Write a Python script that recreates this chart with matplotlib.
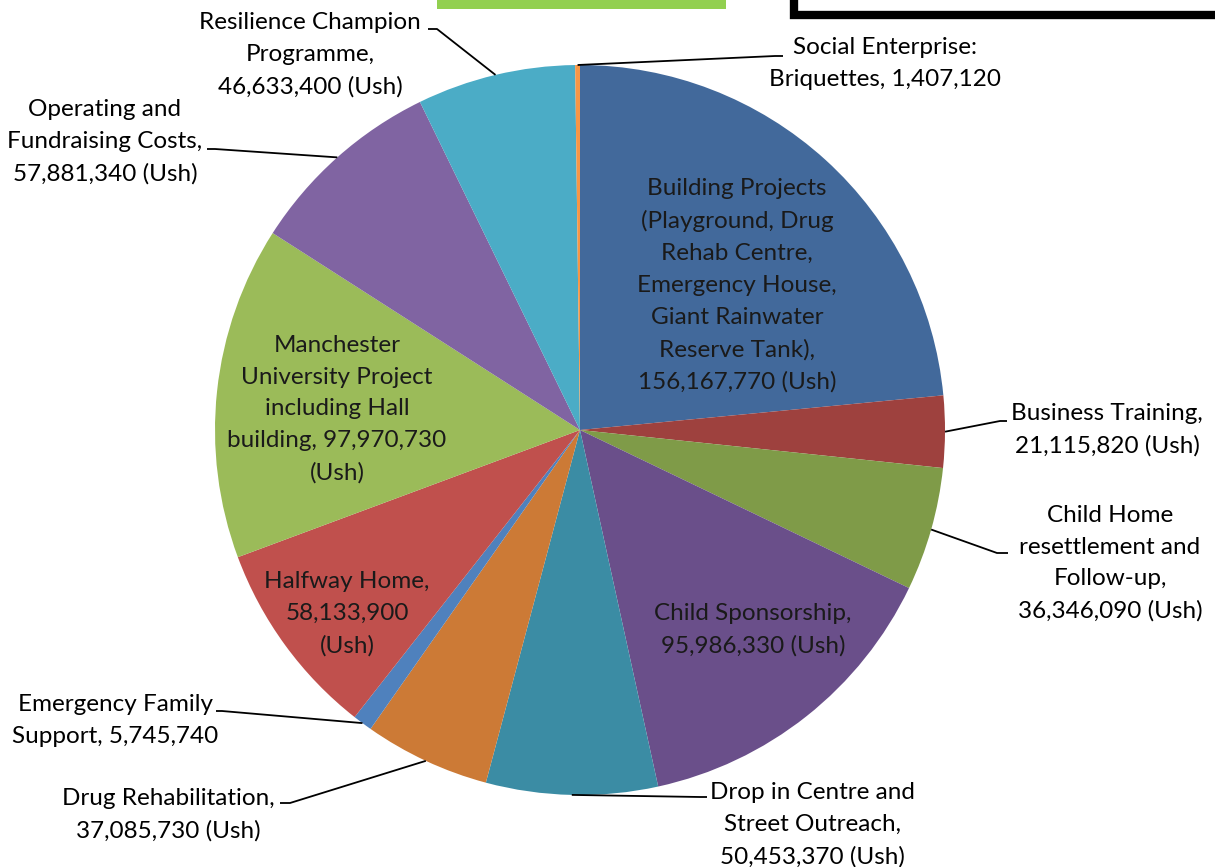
import numpy as np
import matplotlib.pyplot as plt
import matplotlib.patches as mpatches

plt.rcParams['font.family'] = ['Lato', 'DejaVu Sans']

labels = [
    "Building Projects\n(Playground, Drug\nRehab Centre,\nEmergency House,\nGiant Rainwater\nReserve Tank),\n156,167,770 (Ush)",
    "Business Training,\n21,115,820 (Ush)",
    "Child Home\nresettlement and\nFollow-up,\n36,346,090 (Ush)",
    "Child Sponsorship,\n95,986,330 (Ush)",
    "Drop in Centre and\nStreet Outreach,\n50,453,370 (Ush)",
    "Drug Rehabilitation,\n37,085,730 (Ush)",
    "Emergency Family\nSupport, 5,745,740",
    "Halfway Home,\n58,133,900\n(Ush)",
    "Manchester\nUniversity Project\nincluding Hall\nbuilding, 97,970,730\n(Ush)",
    "Operating and\nFundraising Costs,\n57,881,340 (Ush)",
    "Resilience Champion\nProgramme,\n46,633,400 (Ush)",
    "Social Enterprise:\nBriquettes, 1,407,120",
]
values = [156167770, 21115820, 36346090, 95986330, 50453370, 37085730,
          5745740, 58133900, 97970730, 57881340, 46633400, 1407120]
colors = ['#42699B', '#9E413E', '#7F9B48', '#6A4F8A', '#3B8CA4', '#CC7A36',
          '#4F81BD', '#C0504D', '#9BBB59', '#8064A2', '#4BACC6', '#F79646']

# label placement in pixels: text x, centre y of first line,
# and for outside labels the elbow x, elbow y and end of the short flat bit
label_pos = [
    ('in', 737, 187),
    ('out', 1107, 412, 1000, 421, 1007),
    ('out', 1110, 514, 997, 553, 1008),
    ('in', 753, 612),
    ('out', 812, 791, 700, 797, 707),
    ('out', 168, 797, 290, 803, 280),
    ('out', 115, 703, 222, 711, 216),
    ('in', 347, 580),
    ('in', 337, 344),
    ('out', 105, 108, 215, 149, 207),
    ('out', 310, 21, 437, 29, 428),
    ('out', 885, 46, 775, 56, 783),
]

W, H = 1215, 867
cx, cy, r = 580, 430, 365

fig = plt.figure(figsize=(W / 100, H / 100), dpi=100)
ax = fig.add_axes([0, 0, 1, 1])

wedges, _ = ax.pie(values, colors=colors, startangle=-90, counterclock=True,
                   center=(cx, cy), radius=r, frame=True,
                   wedgeprops=dict(linewidth=0))
ax.set_xlim(0, W)
ax.set_ylim(H, 0)
ax.set_aspect('equal')
ax.axis('off')

fs = 17.5
ls = 1.63
half = 9
for w, lab, pos in zip(wedges, labels, label_pos):
    if pos[0] == 'in':
        ax.text(pos[1], pos[2] - half, lab, ha='center', va='top', fontsize=fs,
                color='#1a1a1a', linespacing=ls)
        continue
    _, tx, ty, ex, ey, hx = pos
    mid = np.deg2rad((w.theta1 + w.theta2) / 2)
    px = cx + r * np.cos(mid)
    py = cy + r * np.sin(mid)
    ax.plot([px, ex, hx], [py, ey, ey], color='black', lw=1.3,
            solid_capstyle='butt')
    ax.text(tx, ty - half, lab, ha='center', va='top', fontsize=fs,
            color='black', linespacing=ls)

# fragments of neighbouring shapes cut off at the top
ax.add_patch(mpatches.Rectangle((437, 0), 289, 9, color='#92D050', lw=0))
ax.add_patch(mpatches.Rectangle((794, -25), 440, 40, fill=False,
                                edgecolor='black', lw=6))

fig.savefig('out.png', dpi=100)
